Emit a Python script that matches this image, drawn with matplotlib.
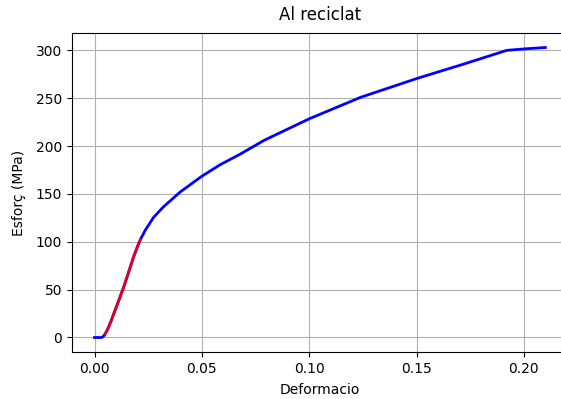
import matplotlib
matplotlib.use("Agg")
import matplotlib.pyplot as plt

# corba tensio-deformacio (llegida del grafic)
deformacio = [0, 0.0034, 0.0045, 0.0060, 0.0075, 0.0100, 0.0135, 0.0160, 0.0180,
              0.0200, 0.0213, 0.0236, 0.0275, 0.0321, 0.0399, 0.0500, 0.0585,
              0.0678, 0.0790, 0.1000, 0.1240, 0.1500, 0.1710, 0.1920, 0.2000, 0.2100]
esforc = [0, 0, 2, 8, 16, 31, 52, 69, 83,
          95, 102, 112, 125.5, 136.5, 152, 168.5, 180.5,
          191.5, 206, 228.5, 251, 270.5, 285, 300, 301.5, 303]

# zona elastica (en vermell)
def_elastica = [0.0050, 0.0060, 0.0075, 0.0100, 0.0135, 0.0160, 0.0180, 0.0200, 0.0213]
esf_elastica = [4, 8, 16, 31, 52, 69, 83, 95, 102]

fig = plt.figure(figsize=(5.61, 3.99), dpi=100)
ax = fig.add_axes([0.1283, 0.1178, 0.884, 0.7995])
ax.plot(deformacio, esforc, color='b', linewidth=2)
ax.plot(def_elastica, esf_elastica, color='r', linewidth=2, alpha=0.88)
ax.set_title('Al reciclat', pad=9)
ax.set_xlabel('Deformacio', labelpad=5.5)
ax.set_ylabel('Esforç (MPa)', labelpad=7)
ax.grid()
# la figura original queda tallada per la dreta
ax.spines['right'].set_visible(False)
fig.savefig('out.png', dpi=100)
